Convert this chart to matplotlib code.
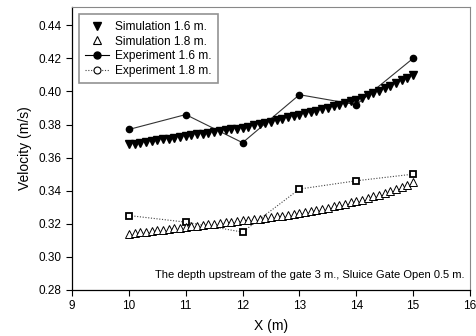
import matplotlib
matplotlib.use('Agg')
import matplotlib.pyplot as plt
from matplotlib.lines import Line2D
import numpy as np

plt.rcParams['font.family'] = ['Liberation Sans', 'DejaVu Sans']

# simulation points every 0.1 m from 10 to 15
sim_x = [round(10 + 0.1 * i, 1) for i in range(51)]
sim_16 = [0.3680, 0.3685, 0.3690, 0.3695, 0.3700, 0.3705, 0.3710, 0.3715, 0.3720, 0.3725,
          0.3730, 0.3735, 0.3740, 0.3745, 0.3750, 0.3755, 0.3760, 0.3765, 0.3770, 0.3775,
          0.3780, 0.3787, 0.3794, 0.3801, 0.3809, 0.3817, 0.3825, 0.3834, 0.3843, 0.3851,
          0.3860, 0.3868, 0.3876, 0.3884, 0.3893, 0.3902, 0.3911, 0.3920, 0.3930, 0.3940,
          0.3950, 0.3963, 0.3977, 0.3991, 0.4005, 0.4020, 0.4035, 0.4050, 0.4066, 0.4083,
          0.4100]
sim_18 = [0.3140, 0.3144, 0.3148, 0.3152, 0.3156, 0.3160, 0.3164, 0.3168, 0.3172, 0.3176,
          0.3180, 0.3184, 0.3188, 0.3192, 0.3196, 0.3200, 0.3204, 0.3208, 0.3212, 0.3216,
          0.3220, 0.3224, 0.3228, 0.3232, 0.3236, 0.3240, 0.3245, 0.3250, 0.3255, 0.3260,
          0.3265, 0.3271, 0.3277, 0.3284, 0.3291, 0.3298, 0.3305, 0.3313, 0.3321, 0.3329,
          0.3337, 0.3346, 0.3355, 0.3365, 0.3375, 0.3386, 0.3397, 0.3409, 0.3421, 0.3434,
          0.3450]

exp_x = [10, 11, 12, 13, 14, 15]
exp_16 = [0.377, 0.386, 0.369, 0.398, 0.392, 0.420]
exp_18 = [0.325, 0.321, 0.315, 0.341, 0.346, 0.350]

labels = ['Simulation 1.6 m.', 'Simulation 1.8 m.', 'Experiment 1.6 m.', 'Experiment 1.8 m.']
note = 'The depth upstream of the gate 3 m., Sluice Gate Open 0.5 m.'

fig = plt.figure(figsize=(4.77, 3.36), dpi=100)
ax = fig.add_axes([72 / 477, 1 - 290 / 336, 398 / 477, 283 / 336])

ax.plot(exp_x, exp_16, color='#333333', lw=0.8, marker='o', ms=4.5,
        mfc='black', mec='black', zorder=3)
ax.plot(exp_x, exp_18, color='#444444', lw=0.8, ls=(0, (1, 1.5)), marker='s', ms=4.5,
        mfc='white', mec='black', mew=1.3, zorder=3)
ax.plot(sim_x, sim_16, ls='none', marker='v', ms=5.8, mfc='black', mec='black', zorder=4)
ax.plot(sim_x, sim_18, ls='none', marker='^', ms=5.8, mfc='white', mec='black',
        mew=0.7, zorder=4)

ax.set_xlim(9, 16)
ax.set_ylim(0.28, 0.451)
ax.set_xticks(np.arange(9, 17, 1))
ax.set_yticks(np.arange(0.28, 0.441, 0.02))
ax.yaxis.set_major_formatter(matplotlib.ticker.FormatStrFormatter('%.2f'))
ax.tick_params(labelsize=8.5, length=4, width=0.8, top=False, right=False)
for s in ['top', 'right']:
    ax.spines[s].set_color('#888888')
    ax.spines[s].set_linewidth(0.8)
for s in ['left', 'bottom']:
    ax.spines[s].set_linewidth(0.9)

ax.set_xlabel('X (m)', fontsize=10, labelpad=5)
ax.set_ylabel('Velocity (m/s)', fontsize=10, labelpad=5)

ax.text(0.985, 0.035, note, transform=ax.transAxes, ha='right', va='bottom', fontsize=8)

handles = [
    Line2D([], [], ls='none', marker='v', ms=6, mfc='black', mec='black'),
    Line2D([], [], ls='none', marker='^', ms=6, mfc='white', mec='black', mew=0.8),
    Line2D([], [], color='black', lw=0.8, marker='o', ms=5, mfc='black', mec='black'),
    Line2D([], [], color='#444444', lw=0.8, ls=(0, (1, 1.5)), marker='o', ms=5,
           mfc='white', mec='black', mew=0.8),
]
leg = ax.legend(handles, labels, loc='upper left', bbox_to_anchor=(0.002, 0.995),
                fontsize=8.6, frameon=True, fancybox=False, handlelength=2.0,
                labelspacing=0.22, borderpad=0.55, handletextpad=0.5)
leg.get_frame().set_edgecolor('#777777')
leg.get_frame().set_linewidth(1.2)

fig.savefig('out.png', dpi=100)
